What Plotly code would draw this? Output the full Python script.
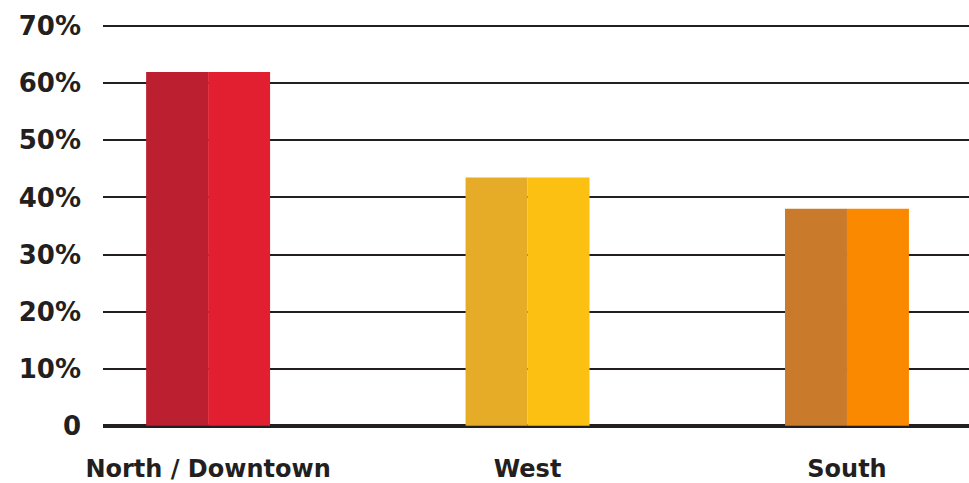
import plotly.graph_objects as go

categories = ["North / Downtown", "West", "South"]
values_left = [62, 43.5, 38]
values_right = [62, 43.5, 38]
colors_left = ["#BC1F2F", "#E7AC27", "#C97A2B"]
colors_right = ["#E11F31", "#FCC012", "#FA8900"]
y_tickvals = [0, 10, 20, 30, 40, 50, 60, 70]
y_ticktext = ["0", "10%", "20%", "30%", "40%", "50%", "60%", "70%"]

ink = "#231F20"
fnt = "DejaVu Sans"

fig = go.Figure()
fig.add_trace(go.Bar(x=categories, y=values_left, marker=dict(color=colors_left, line=dict(width=0)),
                     showlegend=False, hoverinfo="skip"))
fig.add_trace(go.Bar(x=categories, y=values_right, marker=dict(color=colors_right, line=dict(width=0)),
                     showlegend=False, hoverinfo="skip"))

fig.update_layout(
    width=969, height=483,
    margin=dict(l=103, r=0, t=0, b=43),
    paper_bgcolor="white", plot_bgcolor="white",
    barmode="group", bargap=0.612, bargroupgap=0,
    xaxis=dict(
        type="category", range=[-0.329, 2.382],
        showgrid=False, showline=False, zeroline=False, ticks="",
        tickfont=dict(family=fnt, size=24, color=ink, weight="bold"),
        ticklabelstandoff=16,
    ),
    yaxis=dict(
        range=[-1.8, 74.6],
        tickvals=y_tickvals, ticktext=y_ticktext,
        showgrid=True, gridcolor=ink, gridwidth=2,
        zeroline=True, zerolinecolor=ink, zerolinewidth=4,
        showline=False, ticks="",
        tickfont=dict(family=fnt, size=26, color=ink, weight="bold"),
        ticklabelstandoff=21,
    ),
)

fig.write_html(
    "out.html",
    config={"displayModeBar": False},
    post_script="document.body.style.margin='0';document.body.style.overflow='hidden';",
)
